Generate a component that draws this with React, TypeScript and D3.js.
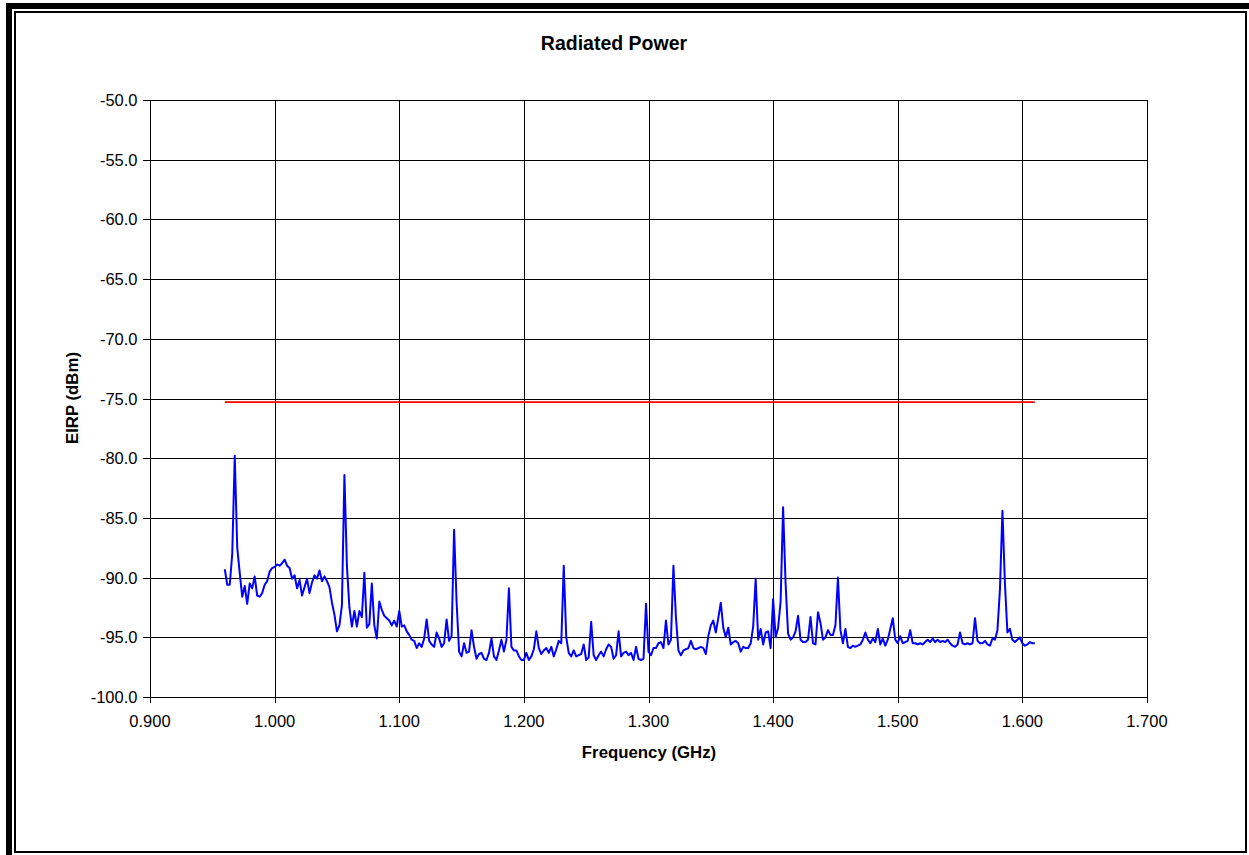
import React from 'react';
import * as d3 from 'd3';

// Chart text
const TITLE = 'Radiated Power';
const X_LABEL = 'Frequency (GHz)';
const Y_LABEL = 'EIRP (dBm)';

// Axis ticks
const xTicks = [0.9, 1.0, 1.1, 1.2, 1.3, 1.4, 1.5, 1.6, 1.7];
const yTicks = [-100, -95, -90, -85, -80, -75, -70, -65, -60, -55, -50];

// Spectrum sweep: start frequency and step (GHz), readings in dBm
const SWEEP_START = 0.96;
const SWEEP_STEP = 0.002;

// 0.960 - 1.120 GHz
const sweepA = [
  -89.3, -90.6, -90.6, -88.0, -79.8, -87.5, -89.6, -91.6, -90.7, -92.2,
  -90.5, -90.9, -89.9, -91.5, -91.6, -91.3, -90.6, -90.3, -89.5, -89.2,
  -89.1, -88.9, -89.0, -88.8, -88.5, -89.0, -89.2, -90.1, -89.8, -90.9,
  -90.2, -91.5, -90.8, -90.1, -91.3, -90.4, -89.8, -90.1, -89.4, -90.3,
  -89.9, -90.3, -90.8, -92.1, -93.1, -94.5, -94.0, -92.3, -81.4, -89.0,
  -92.5, -94.1, -92.8, -94.1, -92.8, -93.3, -89.6, -94.2, -93.9, -90.5,
  -94.0, -95.1, -92.0, -92.7, -93.2, -93.4, -93.6, -94.0, -93.6, -94.1,
  -92.8, -94.1, -94.0, -94.5, -94.8, -95.2, -95.3, -95.9, -95.5, -95.8,
  -95.1,
];

// 1.122 - 1.284 GHz
const sweepB = [
  -93.5, -95.3, -95.6, -95.8, -94.6, -95.1, -95.8, -95.5, -93.5, -95.3,
  -94.9, -86.0, -92.0, -96.2, -96.6, -95.5, -96.3, -96.2, -94.4, -95.8,
  -96.8, -96.4, -96.3, -96.8, -96.9, -96.3, -95.1, -96.6, -96.9, -96.1,
  -95.2, -96.2, -95.2, -90.9, -95.8, -96.1, -96.1, -96.6, -96.9, -96.9,
  -96.3, -96.9, -96.6, -96.0, -94.5, -95.9, -96.4, -96.1, -95.9, -96.3,
  -95.8, -96.6, -96.0, -95.3, -95.5, -89.0, -95.0, -96.3, -96.6, -96.1,
  -96.6, -96.5, -96.4, -95.6, -96.9, -96.7, -93.7, -96.5, -96.9, -96.5,
  -96.2, -96.6, -96.0, -95.6, -95.8, -96.8, -96.5, -94.5, -96.6, -96.3,
  -96.2, -96.5,
];

// 1.286 - 1.448 GHz
const sweepC = [
  -96.3, -96.9, -95.8, -96.8, -96.9, -96.8, -92.2, -96.2, -96.5, -95.9,
  -95.9, -95.5, -95.4, -95.9, -93.6, -95.6, -95.2, -89.0, -93.3, -96.1,
  -96.5, -96.1, -96.0, -95.9, -95.3, -95.9, -96.0, -95.9, -95.8, -95.9,
  -96.4, -94.9, -94.0, -93.6, -94.6, -93.4, -92.1, -94.2, -95.0, -94.2,
  -95.6, -95.4, -95.3, -95.5, -96.2, -95.8, -95.9, -95.9, -95.5, -94.1,
  -90.1, -95.2, -94.3, -95.6, -94.6, -94.5, -95.9, -91.8, -95.0, -94.2,
  -92.0, -84.1, -90.5, -94.7, -95.2, -95.0, -94.5, -93.2, -95.2, -95.4,
  -95.4, -95.2, -93.3, -95.5, -95.6, -92.9, -93.8, -95.2, -95.0, -94.4,
  -94.8, -94.8,
];

// 1.450 - 1.610 GHz
const sweepD = [
  -94.0, -90.0, -94.4, -95.5, -94.3, -95.8, -95.9, -95.7, -95.8, -95.7,
  -95.6, -95.2, -94.6, -95.2, -95.5, -95.1, -95.4, -94.3, -95.6, -95.1,
  -95.7, -95.2, -94.3, -93.4, -95.2, -95.5, -94.9, -95.5, -95.4, -95.3,
  -94.4, -95.5, -95.5, -95.6, -95.5, -95.6, -95.4, -95.2, -95.4, -95.1,
  -95.4, -95.2, -95.4, -95.3, -95.4, -95.2, -95.5, -95.7, -95.8, -95.6,
  -94.6, -95.5, -95.6, -95.5, -95.6, -95.5, -93.4, -95.3, -95.5, -95.5,
  -95.3, -95.6, -95.7, -95.1, -95.2, -94.4, -91.0, -84.4, -90.5, -94.6,
  -94.3, -95.2, -95.4, -95.2, -95.0, -95.5, -95.7, -95.6, -95.4, -95.5,
  -95.5,
];

// Limit line
const limitFreq = [0.96, 1.61];
const limitLevel = [-75.3, -75.3];

const FONT = '"Liberation Sans", Arial, Helvetica, sans-serif';

export default function App() {
  const W = 1249;
  const H = 855;
  const left = 150;
  const right = 1147;
  const top = 100;
  const bottom = 697;

  const x = d3.scaleLinear().domain([0.9, 1.7]).range([left, right]);
  const y = d3.scaleLinear().domain([-100, -50]).range([bottom, top]);

  const readings = [...sweepA, ...sweepB, ...sweepC, ...sweepD].map((v, i) => ({
    f: SWEEP_START + i * SWEEP_STEP,
    v,
  }));
  const limit = limitFreq.map((f, i) => ({ f, v: limitLevel[i] }));

  const line = d3
    .line<{ f: number; v: number }>()
    .x((d) => x(d.f))
    .y((d) => y(d.v));

  const crisp = (p: number) => Math.round(p) + 0.5;

  return (
    <svg
      width={W}
      height={H}
      viewBox={`0 0 ${W} ${H}`}
      style={{ position: 'absolute', left: 0, top: 0, background: '#fff' }}
    >
      <rect x={0} y={0} width={W} height={H} fill="#fff" />

      {/* frame */}
      <rect x={6} y={3} width={W - 6} height={6} fill="#000" />
      <rect x={6} y={3} width={6} height={H - 3} fill="#000" />
      <rect x={15} y={12} width={1231} height={840} fill="none" stroke="#000" strokeWidth={2} />

      {/* title */}
      <text
        x={614}
        y={50}
        textAnchor="middle"
        fontFamily={FONT}
        fontWeight="bold"
        fontSize={19.5}
        fill="#000"
      >
        {TITLE}
      </text>

      {/* gridlines */}
      <g stroke="#000" strokeWidth={1} shapeRendering="crispEdges">
        {yTicks.map((t) => (
          <line key={`gy${t}`} x1={left - 7} x2={right} y1={crisp(y(t))} y2={crisp(y(t))} />
        ))}
        {xTicks.map((t) => (
          <line key={`gx${t}`} x1={crisp(x(t))} x2={crisp(x(t))} y1={top} y2={bottom + 6} />
        ))}
      </g>
      <rect
        x={crisp(left)}
        y={crisp(top)}
        width={Math.round(right) - Math.round(left)}
        height={Math.round(bottom) - Math.round(top)}
        fill="none"
        stroke="#000"
        strokeWidth={1}
        shapeRendering="crispEdges"
      />

      {/* tick labels */}
      <g fontFamily={FONT} fontSize={16.5} fill="#000">
        {yTicks.map((t) => (
          <text key={`ly${t}`} x={137.5} y={y(t) + 6} textAnchor="end">
            {t.toFixed(1)}
          </text>
        ))}
        {xTicks.map((t) => (
          <text key={`lx${t}`} x={x(t)} y={727} textAnchor="middle">
            {t.toFixed(3)}
          </text>
        ))}
      </g>

      {/* axis titles */}
      <text
        x={649}
        y={758}
        textAnchor="middle"
        fontFamily={FONT}
        fontWeight="bold"
        fontSize={16.8}
        fill="#000"
      >
        {X_LABEL}
      </text>
      <text
        transform={`translate(78, 398) rotate(-90)`}
        textAnchor="middle"
        fontFamily={FONT}
        fontWeight="bold"
        fontSize={16.8}
        fill="#000"
      >
        {Y_LABEL}
      </text>

      {/* limit line */}
      <path d={line(limit) ?? ''} fill="none" stroke="#ff0000" strokeWidth={1.6} />

      {/* measured spectrum */}
      <path
        d={line(readings) ?? ''}
        fill="none"
        stroke="#0000ff"
        strokeWidth={2}
        strokeLinejoin="round"
      />
    </svg>
  );
}
